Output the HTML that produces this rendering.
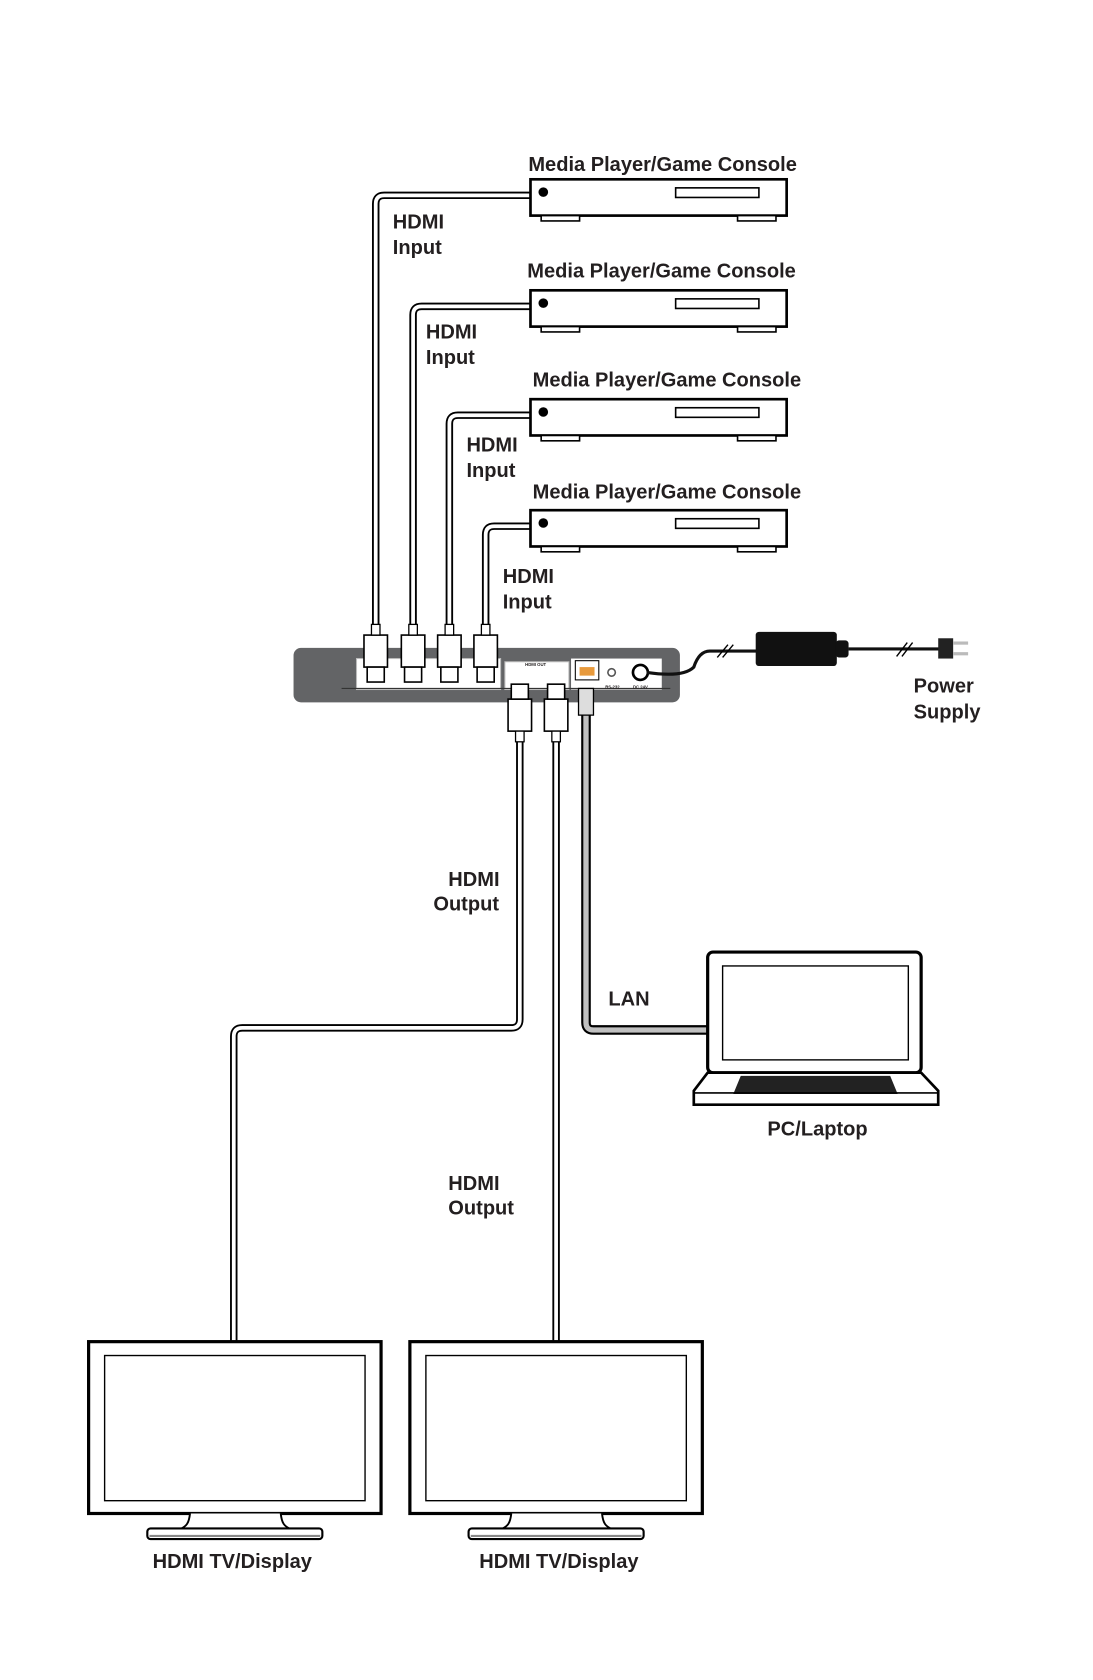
<!DOCTYPE html>
<html><head><meta charset="utf-8"><style>
html,body{margin:0;padding:0;background:#fff}
svg{display:block}
text{font-family:"Liberation Sans",sans-serif;font-weight:bold;font-size:18.8px;fill:#231f20}
</style></head><body>
<svg width="1093" height="1680" viewBox="0 0 1024 1574" xmlns="http://www.w3.org/2000/svg">
<defs>
<g id="player">
<rect x="0" y="0" width="240" height="34" fill="#fff" stroke="#000" stroke-width="2.5"/>
<rect x="10" y="34" width="36" height="5" fill="#fff" stroke="#000" stroke-width="1.5"/>
<rect x="194" y="34" width="36" height="5" fill="#fff" stroke="#000" stroke-width="1.5"/>
<circle cx="12" cy="12" r="4.5" fill="#000"/>
<rect x="136" y="8" width="78" height="9" fill="#fff" stroke="#000" stroke-width="1.5"/>
</g>
<g id="plugv">
<rect x="-11" y="0" width="22" height="30" fill="#fff" stroke="#000" stroke-width="1.5"/>
<rect x="-8" y="30" width="16" height="14" fill="#fff" stroke="#000" stroke-width="1.5"/>
<rect x="-4" y="-10" width="8" height="10" fill="#fff" stroke="#000" stroke-width="1.2"/>
</g>
<g id="tv">
<rect x="0" y="0" width="274" height="161" fill="#fff" stroke="#000" stroke-width="3"/>
<rect x="15" y="13" width="244" height="136" fill="#fff" stroke="#000" stroke-width="1.3"/>
<path d="M95 161 C94 170 92 173 85 176 L190 176 C183 173 181 170 180 161" fill="#fff" stroke="#000" stroke-width="1.8"/>
<rect x="55" y="175" width="164" height="10" rx="3" fill="#fff" stroke="#000" stroke-width="2"/>
<line x1="57" y1="182" x2="217" y2="182" stroke="#888" stroke-width="2"/>
</g>
</defs>

<g fill="none" stroke-linejoin="round">
<g stroke="#000" stroke-width="7">
<path d="M497 183 H360 Q352 183 352 191 V585"/>
<path d="M497 287 H395 Q387 287 387 295 V585"/>
<path d="M497 389 H429 Q421 389 421 397 V585"/>
<path d="M497 493 H463 Q455 493 455 501 V585"/>
<path d="M487 688 V955 Q487 963 479 963 H227 Q219 963 219 971 V1257"/>
<path d="M521 688 V1257"/>
</g>
<g stroke="#fff" stroke-width="3.5">
<path d="M497 183 H360 Q352 183 352 191 V585"/>
<path d="M497 287 H395 Q387 287 387 295 V585"/>
<path d="M497 389 H429 Q421 389 421 397 V585"/>
<path d="M497 493 H463 Q455 493 455 501 V585"/>
<path d="M487 688 V955 Q487 963 479 963 H227 Q219 963 219 971 V1257"/>
<path d="M521 688 V1257"/>
</g>
<path d="M549 660 V958 Q549 965 556 965 H663" stroke="#000" stroke-width="9"/>
<path d="M549 660 V958 Q549 965 556 965 H663" stroke="#c0c0c0" stroke-width="5"/>
</g>

<use href="#player" x="497" y="168"/>
<use href="#player" x="497" y="272"/>
<use href="#player" x="497" y="374"/>
<use href="#player" x="497" y="478"/>

<rect x="275" y="607" width="362" height="51" rx="7" fill="#636466"/>
<rect x="334" y="617" width="135" height="29" fill="#fff" stroke="#bbb"/>
<rect x="473" y="620" width="60" height="26" fill="#fff" stroke="#bbb"/>
<rect x="535" y="617" width="85" height="29" fill="#fff"/>
<line x1="320" y1="645" x2="628" y2="645" stroke="#333" stroke-width="1"/>
<rect x="539" y="619" width="22" height="18" fill="#fff" stroke="#000"/>
<rect x="543" y="625" width="14" height="8" fill="#e89a3c"/>
<circle cx="573" cy="630" r="3.5" fill="#fff" stroke="#555" stroke-width="1.5"/>
<circle cx="600" cy="630" r="7" fill="#fff" stroke="#000" stroke-width="2.5"/>
<text x="567" y="645" style="font-size:4px">RS-232</text>
<text x="593" y="645" style="font-size:4px">DC 24V</text>
<text x="492" y="624" style="font-size:4px">HDMI OUT</text>
<use href="#plugv" x="352" y="595"/>
<use href="#plugv" x="387" y="595"/>
<use href="#plugv" x="421" y="595"/>
<use href="#plugv" x="455" y="595"/>
<g transform="translate(0,1325) scale(1,-1)">
<use href="#plugv" x="487" y="640"/>
<use href="#plugv" x="521" y="640"/>
</g>
<rect x="542" y="645" width="14" height="25" fill="#ddd" stroke="#000" stroke-width="1.2"/>

<path d="M606 630 Q640 635 650 625 Q655 610 665 610 H710" fill="none" stroke="#111" stroke-width="3"/>
<line x1="672" y1="616" x2="682" y2="604" stroke="#000" stroke-width="1.3"/>
<line x1="677" y1="616" x2="687" y2="604" stroke="#000" stroke-width="1.3"/>
<rect x="708" y="592" width="76" height="32" rx="3" fill="#111"/>
<rect x="783" y="600" width="12" height="16" rx="3" fill="#111"/>
<line x1="795" y1="608" x2="880" y2="608" stroke="#111" stroke-width="3"/>
<line x1="840" y1="615" x2="850" y2="602" stroke="#000" stroke-width="1.3"/>
<line x1="845" y1="615" x2="855" y2="602" stroke="#000" stroke-width="1.3"/>
<rect x="879" y="598" width="14" height="19" fill="#222"/>
<rect x="893" y="601" width="14" height="3" fill="#bbb"/>
<rect x="893" y="611" width="14" height="3" fill="#bbb"/>

<rect x="663" y="892" width="200" height="113" rx="5" fill="#fff" stroke="#000" stroke-width="3"/>
<rect x="677" y="905" width="174" height="88" fill="#fff" stroke="#000" stroke-width="1.3"/>
<path d="M663 1005 L650 1022 V1035 H879 V1022 L863 1005 Z" fill="#fff" stroke="#000" stroke-width="2.5"/>
<path d="M694 1008 H834 L841 1025 H687 Z" fill="#222"/>
<line x1="650" y1="1024" x2="879" y2="1024" stroke="#000" stroke-width="1.5"/>

<use href="#tv" x="83" y="1257"/>
<use href="#tv" x="384" y="1257"/>

<text x="495" y="160">Media Player/Game Console</text>
<text x="494" y="260">Media Player/Game Console</text>
<text x="499" y="362">Media Player/Game Console</text>
<text x="499" y="467">Media Player/Game Console</text>
<text x="368" y="214">HDMI</text><text x="368" y="238">Input</text>
<text x="399" y="317">HDMI</text><text x="399" y="341">Input</text>
<text x="437" y="423">HDMI</text><text x="437" y="447">Input</text>
<text x="471" y="546">HDMI</text><text x="471" y="570">Input</text>
<text x="420" y="830">HDMI</text><text x="406" y="853">Output</text>
<text x="420" y="1115">HDMI</text><text x="420" y="1138">Output</text>
<text x="570" y="942">LAN</text>
<text x="856" y="649">Power</text><text x="856" y="673">Supply</text>
<text x="719" y="1064">PC/Laptop</text>
<text x="143" y="1469">HDMI TV/Display</text>
<text x="449" y="1469">HDMI TV/Display</text>
</svg>
</body></html>
